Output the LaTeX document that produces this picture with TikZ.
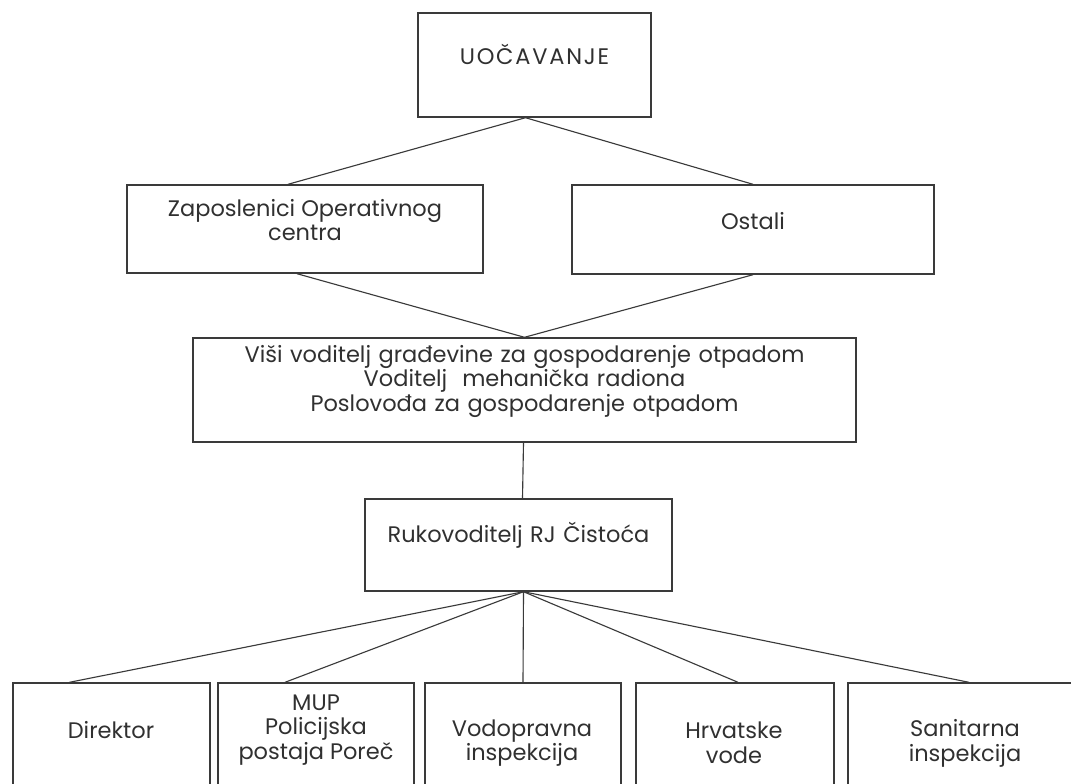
\documentclass[tikz,border=0pt]{standalone}
\usepackage{fontspec}
\setmainfont{Poppins}
\usetikzlibrary{fit}
\definecolor{Ink}{HTML}{3A3A3A}
\definecolor{Txt}{HTML}{303030}

\tikzset{
  box/.style={draw=Ink, line width=1pt, inner sep=0pt, fit={#1},
    align=center, text=Txt},
  lbl/.style={align=center, text=Txt, inner sep=0pt},
  link/.style={draw=Ink, line width=0.8pt},
}

\begin{document}
\begin{tikzpicture}[x=0.025cm,y=-0.025cm,font=\fontsize{16}{17.6}\selectfont]
  \useasboundingbox (0,0) rectangle (1071,783);
  \clip (0,0) rectangle (1071,783);

  % Top
  \node[box={(418,13) (651,117)}] (uoc)
    {\addfontfeatures{LetterSpace=8}UOČAVANJE};

  % Second row
  \node[box={(127,185) (483,273)}] (zap) {};
  \node[lbl] (zap-t) at (305,220) {Zaposlenici Operativnog\\centra};
  \node[box={(572,185) (934,274)}] (ost) {Ostali};

  % Middle
  \node[box={(193,338) (856,442)}] (visi)
    {Viši voditelj građevine za gospodarenje otpadom\\
     Voditelj~~mehanička radiona\\
     Poslovođa za gospodarenje otpadom};
  \node[box={(365,499) (672,591)}] (ruk) {Rukovoditelj RJ Čistoća};

  % Bottom row (cut off by the page edge)
  \node[box={(13,683) (210,800)}] (dir) {};
  \node[box={(218,683) (414,800)}] (mup) {};
  \node[box={(425,683) (621,800)}] (vod) {};
  \node[box={(636,683) (834,800)}] (hrv) {};
  \node[box={(848,683) (1082,800)}] (san) {};

  \node[lbl] (dir-t) at (111,730) {Direktor};
  \node[lbl] (mup-t) at (316,730) {MUP\\Policijska\\postaja Poreč};
  \node[lbl] (vod-t) at (522,743) {Vodopravna\\inspekcija};
  \node[lbl] (hrv-t) at (734,743) {Hrvatske\\vode};
  \node[lbl] (san-t) at (965,743) {Sanitarna\\inspekcija};

  % Connectors
  \draw[link] ([shift={(-9,0)}]uoc.south) -- ([shift={(-17,0)}]zap.north);
  \draw[link] ([shift={(-9,0)}]uoc.south) -- (ost.north);
  \draw[link] ([shift={(-8,0)}]zap.south) -- (visi.north);
  \draw[link] (ost.south) -- (visi.north);
  \draw[link] ([shift={(-1,0)}]visi.south) -- ([shift={(4,0)}]ruk.north);
  \draw[link] ([shift={(5,0)}]ruk.south) -- ([shift={(-42,0)}]dir.north);
  \draw[link] ([shift={(5,0)}]ruk.south) -- ([shift={(-31,0)}]mup.north);
  \draw[link] ([shift={(5,0)}]ruk.south) -- (vod.north);
  \draw[link] ([shift={(5,0)}]ruk.south) -- ([shift={(3,0)}]hrv.north);
  \draw[link] ([shift={(5,0)}]ruk.south) -- ([shift={(4,0)}]san.north);
\end{tikzpicture}
\end{document}
